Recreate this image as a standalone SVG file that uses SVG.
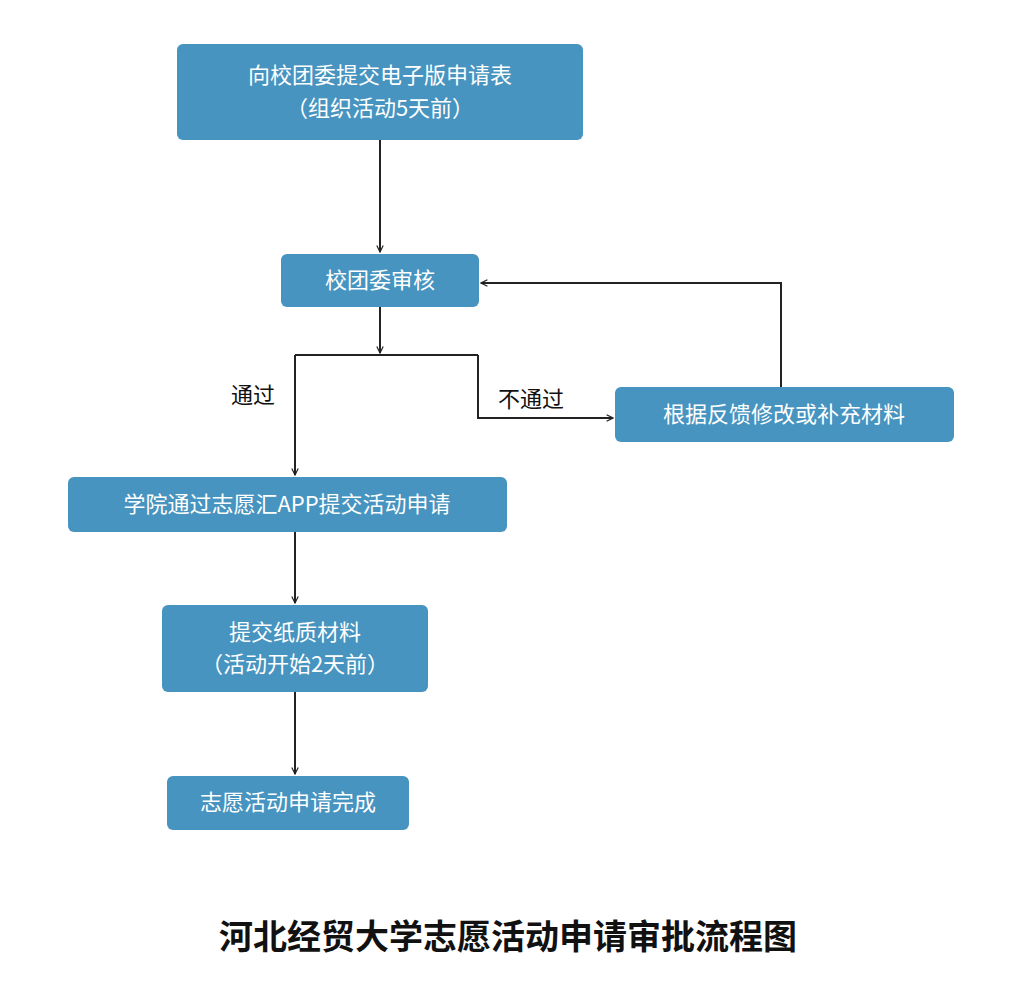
<svg xmlns="http://www.w3.org/2000/svg" width="1024" height="1006" viewBox="0 0 1024 1006">
<defs>
<style>
.box{fill:#4694bf;}
.t{fill:#fff;font-family:"Noto Sans CJK SC","Noto Sans",sans-serif;font-size:22px;text-anchor:middle;}
.l{fill:#111;font-family:"Noto Sans CJK SC",sans-serif;font-size:22px;text-anchor:middle;}
.c{stroke:#222;stroke-width:2;fill:none;marker-end:url(#a);}
</style>
<marker id="a" viewBox="0 0 10 10" refX="9" refY="5" markerWidth="8" markerHeight="8" orient="auto" markerUnits="userSpaceOnUse">
<path d="M1,1 L9,5 L1,9" fill="none" stroke="#222" stroke-width="1.5"/>
</marker>
</defs>
<rect width="1024" height="1006" fill="#fff"/>
<g id="n1"><rect class="box" x="177" y="44" width="406" height="96" rx="6"/><text class="t" x="380" y="83">向校团委提交电子版申请表</text><text class="t" x="380" y="116">（组织活动5天前）</text></g>
<g id="n2"><rect class="box" x="281" y="254" width="198" height="53" rx="6"/><text class="t" x="380" y="288">校团委审核</text></g>
<g id="n3"><rect class="box" x="615" y="387" width="339" height="55" rx="6"/><text class="t" x="784" y="422">根据反馈修改或补充材料</text></g>
<g id="n4"><rect class="box" x="68" y="477" width="439" height="55" rx="6"/><text class="t" x="287" y="512">学院通过志愿汇APP提交活动申请</text></g>
<g id="n5"><rect class="box" x="162" y="605" width="266" height="87" rx="6"/><text class="t" x="295" y="640">提交纸质材料</text><text class="t" x="295" y="672">（活动开始2天前）</text></g>
<g id="n6"><rect class="box" x="167" y="776" width="242" height="54" rx="6"/><text class="t" x="288" y="810">志愿活动申请完成</text></g>
<g id="edges">
<path class="c" d="M380,140 V252"/>
<path class="c" d="M380,307 V353"/>
<path d="M295,355 H478" stroke="#222" stroke-width="2"/>
<path class="c" d="M295,355 V475"/>
<path class="c" d="M478,355 V418 H613"/>
<path class="c" d="M781,387 V283 H481"/>
<path class="c" d="M295,532 V603"/>
<path class="c" d="M295,692 V774"/>
<text class="l" x="253" y="403">通过</text>
<text class="l" x="531" y="407">不通过</text>
</g>
<text x="508" y="949" style="font-family:'Noto Sans CJK SC',sans-serif;font-size:34px;font-weight:bold;text-anchor:middle;fill:#111">河北经贸大学志愿活动申请审批流程图</text>
</svg>
